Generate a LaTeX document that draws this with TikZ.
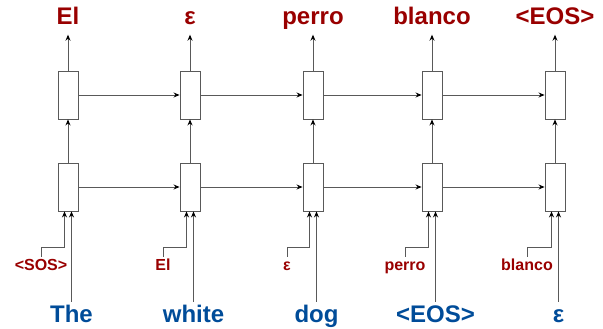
\documentclass[tikz,border=0pt]{standalone}
\usepackage{fontspec}
\setmainfont{Liberation Sans}
\usetikzlibrary{arrows.meta}
\definecolor{outred}{HTML}{990000}
\definecolor{inblue}{HTML}{004C99}
\tikzset{
	cell/.style={draw=black!65, line width=0.9pt, fill=white, minimum width=20pt, minimum height=48pt, inner sep=0pt},
	arr/.style={draw=black!65, line width=0.9pt, -{Stealth[length=6pt,width=5pt,black]}},
	outword/.style={font=\fontsize{24}{24}\selectfont\bfseries, text=outred, text height=18pt, text depth=5pt, inner sep=4.5pt},
	inword/.style={font=\fontsize{24}{24}\selectfont\bfseries, text=inblue, text height=18pt, text depth=5pt, inner sep=2pt},
	prevword/.style={font=\fontsize{16}{16}\selectfont\bfseries, text=outred, text height=12pt, text depth=3.5pt, inner sep=1.5pt}
}

\begin{document}
\begin{tikzpicture}[x=1pt, y=-1pt]
			%%%%% START %%%%%
			\useasboundingbox (0, 0) rectangle (603, 329);
			
			% cells
			\node[cell] (t1) at (68, 95) {};
			\node[cell] (t2) at (190, 95) {};
			\node[cell] (t3) at (313, 95) {};
			\node[cell] (t4) at (432, 95) {};
			\node[cell] (t5) at (555, 95) {};
			
			\node[cell] (b1) at (68, 187) {};
			\node[cell] (b2) at (190, 187) {};
			\node[cell] (b3) at (313, 187) {};
			\node[cell] (b4) at (432, 187) {};
			\node[cell] (b5) at (555, 187) {};
			
			% outputs
			\node[outword] (out1) at (68, 18.5) {El};
			\node[outword] (out2) at (190, 18.5) {ε};
			\node[outword] (out3) at (313, 18.5) {perro};
			\node[outword] (out4) at (432, 18.5) {blanco};
			\node[outword] (out5) at (555, 18.5) {<EOS>};
			
			% inputs
			\node[inword] (in1) at (71.5, 315.5) {The};
			\node[inword] (in2) at (193.5, 315.5) {white};
			\node[inword] (in3) at (316.5, 315.5) {dog};
			\node[inword] (in4) at (435.5, 315.5) {<EOS>};
			\node[inword] (in5) at (558.5, 315.5) {ε};
			
			% previous outputs fed back
			\node[prevword] (p1) at (41, 266) {<SOS>};
			\node[prevword] (p2) at (163, 266) {El};
			\node[prevword] (p3) at (287, 266) {ε};
			\node[prevword] (p4) at (405, 266) {perro};
			\node[prevword] (p5) at (527, 266) {blanco};
			
			% recurrence
			\draw[arr] (t1) -- (t2);
			\draw[arr] (t2) -- (t3);
			\draw[arr] (t3) -- (t4);
			\draw[arr] (t4) -- (t5);
			\draw[arr] (b1) -- (b2);
			\draw[arr] (b2) -- (b3);
			\draw[arr] (b3) -- (b4);
			\draw[arr] (b4) -- (b5);
			
			% layers and outputs
			\draw[arr] (b1) -- (t1);
			\draw[arr] (b2) -- (t2);
			\draw[arr] (b3) -- (t3);
			\draw[arr] (b4) -- (t4);
			\draw[arr] (b5) -- (t5);
			\draw[arr] (t1) -- (out1);
			\draw[arr] (t2) -- (out2);
			\draw[arr] (t3) -- (out3);
			\draw[arr] (t4) -- (out4);
			\draw[arr] (t5) -- (out5);
			
			% inputs into cells
			\draw[arr] (in1.north) -- (in1.north |- b1.south);
			\draw[arr] (in2.north) -- (in2.north |- b2.south);
			\draw[arr] (in3.north) -- (in3.north |- b3.south);
			\draw[arr] (in4.north) -- (in4.north |- b4.south);
			\draw[arr] (in5.north) -- (in5.north |- b5.south);
			\draw[arr] (p1.north) -- ++(0, -9) -| ([xshift=-3.5pt]b1.south);
			\draw[arr] (p2.north) -- ++(0, -9) -| ([xshift=-3.5pt]b2.south);
			\draw[arr] (p3.north) -- ++(0, -9) -| ([xshift=-3.5pt]b3.south);
			\draw[arr] (p4.north) -- ++(0, -9) -| ([xshift=-3.5pt]b4.south);
			\draw[arr] (p5.north) -- ++(0, -9) -| ([xshift=-3.5pt]b5.south);
			
			%%%%% END %%%%%
\end{tikzpicture}
\end{document}
